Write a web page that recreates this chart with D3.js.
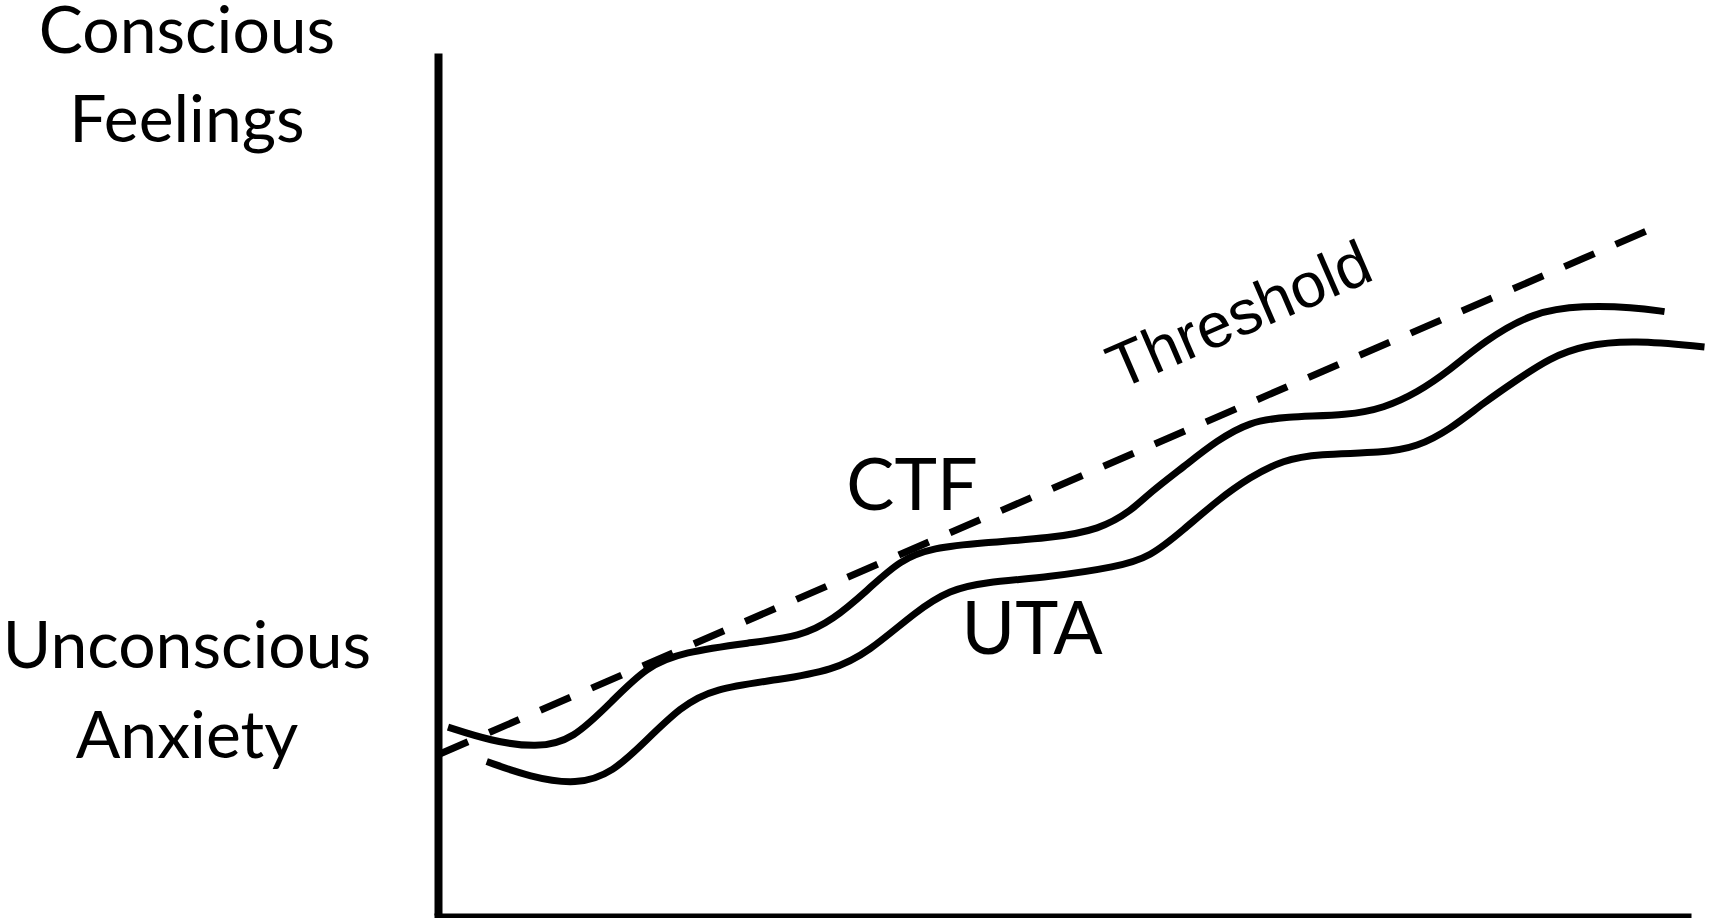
<!DOCTYPE html>
<html lang="en">

<head>
    <meta charset="UTF-8">
    <script src="https://d3js.org/d3.v7.min.js"></script>
    <style>
        body { margin: 0; background: #fff; }
        svg { display: block; }
        .lbl { font-family: Lato, "Open Sans", sans-serif; fill: #000; }
        .thr { font-family: "Liberation Sans", Arial, sans-serif; fill: #000; }
    </style>
    <title>ctf_uta</title>
</head>

<body>
    <script>

        // values, in 0-100 units on both axes
        var ctfX = [0.8, 4.2, 7.9, 10.8, 14.0, 16.7, 19.6, 25.0, 29.0, 31.6, 34.4, 37.0, 39.6, 43.6, 49.0, 53.0,
            55.6, 57.0, 59.7, 62.4, 65.0, 67.7, 73.0, 75.7, 78.4, 81.0, 83.7, 87.7, 91.7, 95.7, 98.2]
        var ctfY = [21.8, 20.2, 19.4, 20.3, 24.9, 28.8, 30.5, 31.6, 32.3, 34.2, 37.7, 41.2, 42.6, 43.2, 43.7, 44.7,
            47.0, 49.0, 52.0, 55.1, 57.2, 57.8, 58.0, 58.8, 60.6, 63.2, 66.5, 70.0, 70.7, 70.5, 70.0]

        var utaX = [3.9, 7.4, 11.1, 14.0, 16.7, 19.4, 22.0, 27.4, 31.6, 34.4, 38.4, 41.0, 43.6, 49.0, 54.4, 57.0,
            59.7, 62.4, 65.0, 67.7, 70.4, 75.7, 78.4, 81.0, 83.7, 86.4, 89.0, 91.7, 95.7, 101.4]
        var utaY = [17.8, 16.0, 15.1, 16.5, 20.3, 24.1, 26.3, 27.3, 28.4, 30.4, 35.4, 37.7, 38.6, 39.2, 40.4, 41.5,
            44.7, 48.1, 50.8, 52.8, 53.5, 53.6, 54.3, 56.3, 59.4, 62.1, 64.6, 66.1, 66.7, 65.9]

        var thresholdX = [0, 97.0]
        var thresholdY = [18.6, 79.5]

        var curveLabels = ["CTF", "UTA", "Threshold"]
        var axisLabels = [["Conscious", "Feelings"], ["Unconscious", "Anxiety"]]

        var width = 1710,
            height = 918

        var svg = d3.select("body").append("svg")
            .attr("width", width)
            .attr("height", height)

        var x = d3.scaleLinear().domain([0, 100]).range([438, 1687])
        var y = d3.scaleLinear().domain([0, 100]).range([915, 53])

        // axes: just the two black lines, no ticks
        svg.append("g")
            .attr("transform", "translate(" + x(0) + ",0)")
            .call(d3.axisLeft(y).ticks(0).tickSizeOuter(0))
            .call(function (g) { g.select(".domain").attr("stroke-width", 8) })

        svg.append("g")
            .attr("transform", "translate(0," + (y(0) + 2) + ")")
            .call(d3.axisBottom(x).ticks(0).tickSizeOuter(0))
            .call(function (g) { g.select(".domain").attr("stroke-width", 8).attr("stroke-linecap", "square") })

        var line = d3.line()
            .x(function (d) { return x(d[0]) })
            .y(function (d) { return y(d[1]) })
            .curve(d3.curveBasis)

        var series = [
            { pts: d3.zip(ctfX, ctfY), dash: null },
            { pts: d3.zip(utaX, utaY), dash: null },
            { pts: d3.zip(thresholdX, thresholdY), dash: "32.7,23.1" }
        ]

        svg.selectAll("path.curve")
            .data(series)
            .join("path")
            .attr("class", "curve")
            .attr("d", function (d) { return line(d.pts) })
            .attr("fill", "none")
            .attr("stroke", "#000")
            .attr("stroke-width", 7)
            .attr("stroke-dasharray", function (d) { return d.dash })

        // labels on the curves
        svg.append("text").attr("class", "lbl")
            .attr("x", 912).attr("y", 510)
            .attr("text-anchor", "middle")
            .style("font-size", "72px")
            .text(curveLabels[0])

        svg.append("text").attr("class", "lbl")
            .attr("x", 1032).attr("y", 654)
            .attr("text-anchor", "middle")
            .style("font-size", "73px")
            .text(curveLabels[1])

        svg.append("text").attr("class", "thr")
            .attr("transform", "translate(1119,390) rotate(-23.4)")
            .style("font-size", "63px")
            .text(curveLabels[2])

        // labels left of the y axis
        var rows = [[53, 142], [668, 758]]
        axisLabels.forEach(function (pair, i) {
            pair.forEach(function (t, j) {
                svg.append("text").attr("class", "lbl")
                    .attr("x", 187).attr("y", rows[i][j])
                    .attr("text-anchor", "middle")
                    .style("font-size", "66px")
                    .text(t)
            })
        })

    </script>
</body>

</html>
